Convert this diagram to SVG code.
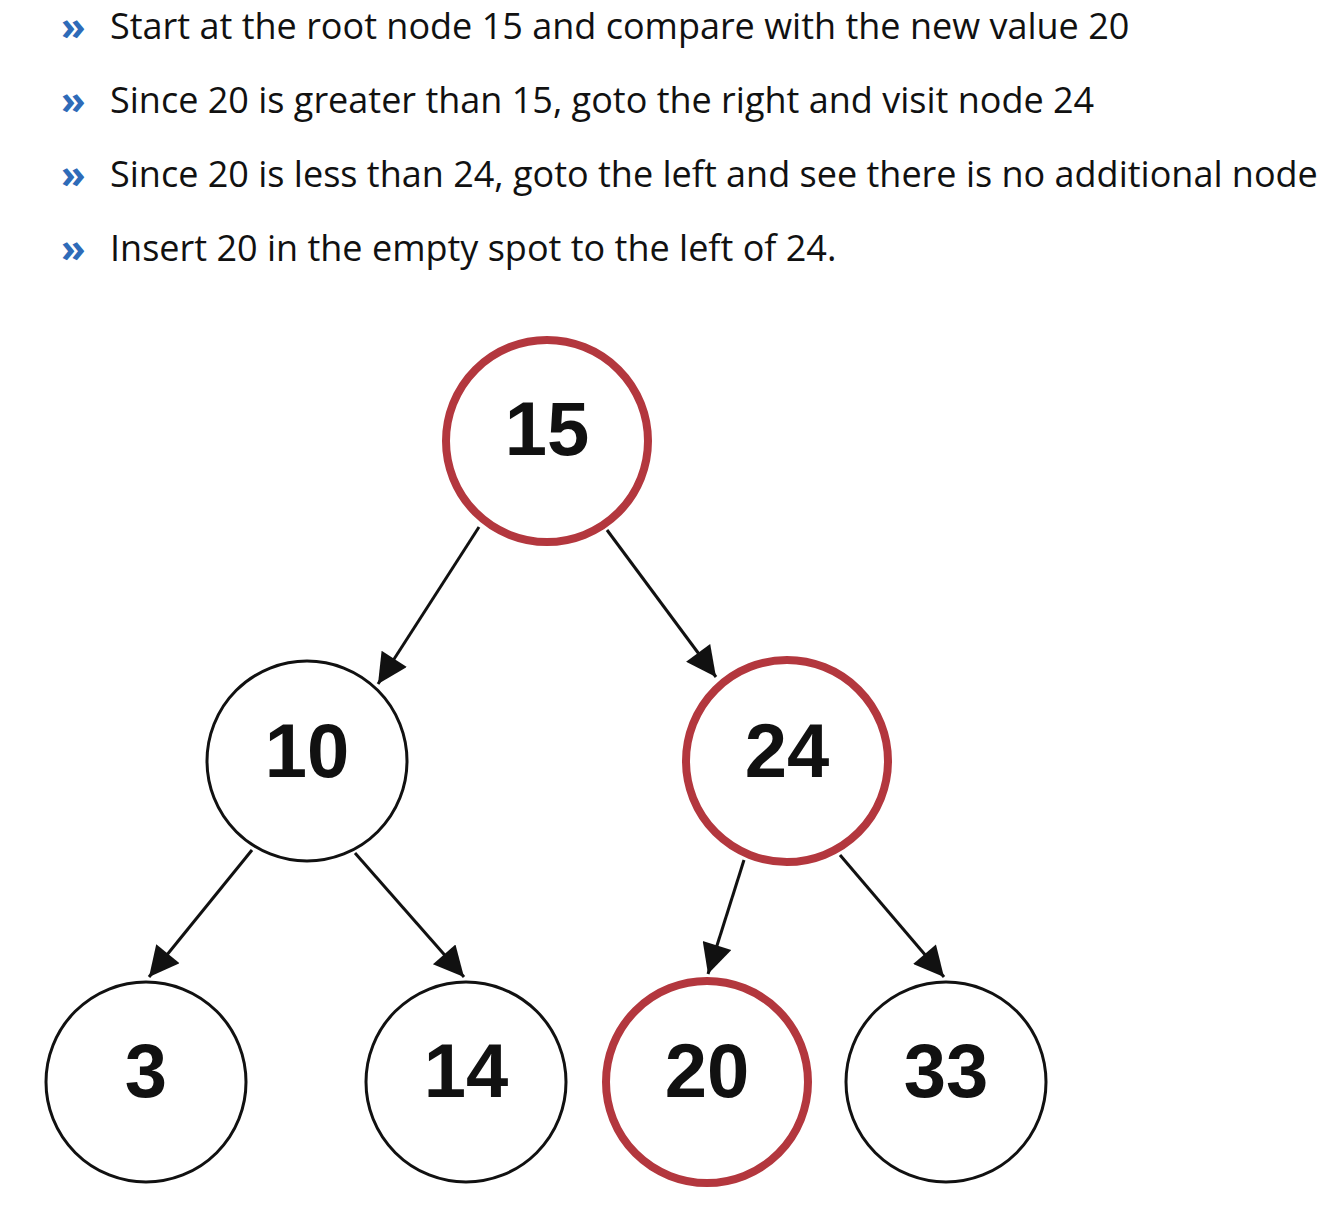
<svg xmlns="http://www.w3.org/2000/svg" width="1338" height="1220" viewBox="0 0 1338 1220">
<style>
.bul{font-family:"Open Sans","Noto Sans",sans-serif;font-size:40px;font-weight:bold;fill:#2e6bb8}
.txt{font-family:"Open Sans","Noto Sans",sans-serif;font-size:36px;fill:#111}
.n{fill:#fff;stroke:#111;stroke-width:3}
.r{fill:#fff;stroke:#b3373e;stroke-width:8}
.lbl{font-family:"Liberation Sans",Arial,sans-serif;font-size:76px;font-weight:bold;fill:#111;text-anchor:middle}
.e{stroke:#111;stroke-width:3;fill:none;marker-end:url(#ah)}
</style>
<defs>
<marker id="ah" viewBox="0 0 10 10" refX="10" refY="5" markerWidth="11" markerHeight="10" markerUnits="strokeWidth" orient="auto">
<path d="M0,0 L10,5 L0,10 Z" fill="#111"/>
</marker>
</defs>
<rect width="1338" height="1220" fill="#fff"/>
<g id="steps">
<text class="bul" x="61" y="40">»</text>
<text class="txt" x="110" y="39">Start at the root node 15 and compare with the new value 20</text>
<text class="bul" x="61" y="114">»</text>
<text class="txt" x="110" y="113">Since 20 is greater than 15, goto the right and visit node 24</text>
<text class="bul" x="61" y="188">»</text>
<text class="txt" x="110" y="187">Since 20 is less than 24, goto the left and see there is no additional node</text>
<text class="bul" x="61" y="262">»</text>
<text class="txt" x="110" y="261">Insert 20 in the empty spot to the left of 24.</text>
</g>
<g id="connectors">
<line class="e" x1="479" y1="527" x2="378" y2="684"/>
<line class="e" x1="607" y1="530" x2="716" y2="677"/>
<line class="e" x1="252" y1="850" x2="149" y2="977"/>
<line class="e" x1="355" y1="853" x2="464" y2="977"/>
<line class="e" x1="744" y1="860" x2="708" y2="974"/>
<line class="e" x1="840" y1="855" x2="944" y2="977"/>
</g>
<g id="node-15"><circle class="r" cx="547" cy="441" r="101"/><text class="lbl" x="547" y="455">15</text></g>
<g id="node-10"><circle class="n" cx="307" cy="761" r="100"/><text class="lbl" x="307" y="777">10</text></g>
<g id="node-24"><circle class="r" cx="787" cy="761" r="101"/><text class="lbl" x="787" y="777">24</text></g>
<g id="node-3"><circle class="n" cx="146" cy="1082" r="100"/><text class="lbl" x="146" y="1097">3</text></g>
<g id="node-14"><circle class="n" cx="466" cy="1082" r="100"/><text class="lbl" x="466" y="1097">14</text></g>
<g id="node-20"><circle class="r" cx="707" cy="1082" r="101"/><text class="lbl" x="707" y="1097">20</text></g>
<g id="node-33"><circle class="n" cx="946" cy="1082" r="100"/><text class="lbl" x="946" y="1097">33</text></g>
</svg>
